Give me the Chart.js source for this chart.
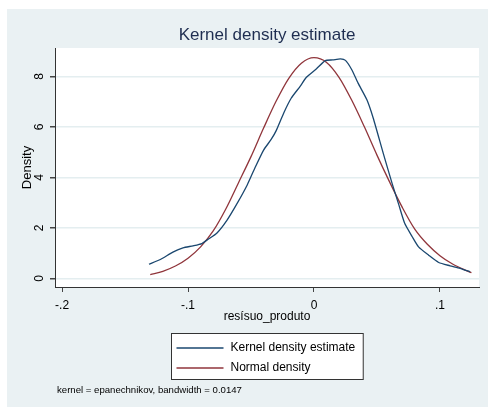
<!DOCTYPE html>
<html>
<head>
<meta charset="utf-8">
<script src="https://cdn.jsdelivr.net/npm/chart.js@4.4.1/dist/chart.umd.min.js"></script>
<style>
  body { margin: 0; background: #fff; }
  #wrap { position: absolute; left: 7px; top: 9px; width: 481px; height: 398px; }
</style>
</head>
<body>
<div id="wrap"><canvas id="kdens"></canvas></div>
<script>
// kernel density estimate of resísuo_produto
const kernelX = [-0.131, -0.122, -0.112, -0.104, -0.096, -0.089, -0.084, -0.077, -0.069, -0.061,
  -0.053, -0.047, -0.040, -0.034, -0.030, -0.024, -0.018, -0.011, -0.006, 0.002,
  0.009, 0.015, 0.021, 0.025, 0.030, 0.035, 0.042, 0.047, 0.055, 0.062,
  0.067, 0.072, 0.078, 0.083, 0.091, 0.099, 0.108, 0.116, 0.124];
const kernelY = [0.56, 0.75, 1.04, 1.21, 1.29, 1.38, 1.55, 1.80, 2.31, 2.97,
  3.70, 4.36, 5.08, 5.50, 5.85, 6.55, 7.14, 7.60, 7.96, 8.30,
  8.62, 8.65, 8.69, 8.63, 8.26, 7.73, 7.07, 6.35, 4.95, 3.76,
  2.97, 2.18, 1.65, 1.25, 0.92, 0.63, 0.50, 0.40, 0.26];

// normal density overlay
const normalX = [-0.13, -0.12, -0.11, -0.10, -0.09, -0.08, -0.07, -0.06, -0.05, -0.04,
  -0.03, -0.02, -0.01, 0.00, 0.01, 0.02, 0.03, 0.04, 0.05, 0.06,
  0.07, 0.08, 0.09, 0.10, 0.11, 0.12, 0.125];
const normalY = [0.15, 0.28, 0.49, 0.80, 1.25, 1.88, 2.75, 3.78, 4.82, 5.95,
  7.02, 7.92, 8.52, 8.74, 8.55, 7.95, 7.05, 6.00, 4.88, 3.82,
  2.82, 1.95, 1.35, 0.90, 0.57, 0.33, 0.23];

const xTicks = [-0.2, -0.1, 0, 0.1];
const xTickLabels = ['-.2', '-.1', '0', '.1'];
const yTicks = [0, 2, 4, 6, 8];

const FONT = "'Liberation Sans', Arial, sans-serif";
const BG = '#eaf1f3';

const pts = (xs, ys) => xs.map((x, i) => ({x: x, y: ys[i]}));

const background = {
  id: 'background',
  beforeDraw(chart) {
    const {ctx, chartArea: a} = chart;
    ctx.save();
    ctx.fillStyle = BG;
    ctx.fillRect(0, 0, chart.width, chart.height);
    ctx.fillStyle = '#fff';
    ctx.fillRect(a.left, a.top, a.right - a.left, a.bottom - a.top);
    ctx.restore();
  }
};

// stata style legend box + kernel note
const legendBox = {
  id: 'legendBox',
  afterDraw(chart) {
    const {ctx, chartArea: a} = chart;
    const sets = chart.data.datasets;
    ctx.save();
    ctx.font = '12px ' + FONT;
    let tw = 0;
    sets.forEach(d => { tw = Math.max(tw, ctx.measureText(d.label).width); });
    const lineW = 47, w = 5 + lineW + 7 + tw + 8, h = 46;
    const left = Math.round((a.left + a.right) / 2 - w / 2) + 0.5;
    const top = 324.5;
    ctx.fillStyle = '#fff';
    ctx.fillRect(left, top, w, h);
    ctx.strokeStyle = '#333';
    ctx.lineWidth = 1;
    ctx.strokeRect(left, top, w, h);
    sets.forEach((d, i) => {
      const y = top + 14.5 + i * 20;
      ctx.strokeStyle = d.borderColor;
      ctx.lineWidth = 1.3;
      ctx.beginPath();
      ctx.moveTo(left + 5, y);
      ctx.lineTo(left + 5 + lineW, y);
      ctx.stroke();
      ctx.fillStyle = '#000';
      ctx.textBaseline = 'middle';
      ctx.textAlign = 'left';
      ctx.fillText(d.label, left + 5 + lineW + 7, y);
    });
    ctx.font = '9.6px ' + FONT;
    ctx.fillStyle = '#000';
    ctx.fillText('kernel = epanechnikov, bandwidth = 0.0147', a.left + 2, 381);
    ctx.restore();
  }
};

new Chart(document.getElementById('kdens'), {
  type: 'line',
  data: {
    datasets: [{
      label: 'Kernel density estimate',
      data: pts(kernelX, kernelY),
      borderColor: '#1a476f',
      borderWidth: 1.3,
      pointRadius: 0,
      tension: 0.2
    }, {
      label: 'Normal density',
      data: pts(normalX, normalY),
      borderColor: '#90353b',
      borderWidth: 1.3,
      pointRadius: 0,
      cubicInterpolationMode: 'monotone'
    }]
  },
  options: {
    responsive: true,
    maintainAspectRatio: false,
    animation: false,
    layout: { padding: { left: 0, right: 9, top: 0, bottom: 70 } },
    plugins: {
      legend: { display: false },
      tooltip: { enabled: false },
      title: {
        display: true,
        fullSize: false,
        text: 'Kernel density estimate',
        color: '#1e2d50',
        font: { family: FONT, size: 17, weight: 'normal' },
        padding: { top: 16, bottom: 2.6 }
      }
    },
    scales: {
      x: {
        type: 'linear',
        min: -0.2056,
        max: 0.131,
        afterBuildTicks: s => { s.ticks = xTicks.map(v => ({value: v})); },
        afterFit: s => { s.height = 50; },
        ticks: {
          color: '#000',
          padding: 6,
          maxRotation: 0,
          font: { family: FONT, size: 12 },
          callback: (v) => xTickLabels[xTicks.indexOf(v)]
        },
        grid: { drawOnChartArea: false, tickLength: 5, tickColor: '#444' },
        border: { display: true, color: '#333', width: 1 },
        title: {
          display: true,
          text: 'resísuo_produto',
          color: '#000',
          font: { family: FONT, size: 12 },
          padding: { top: 0, bottom: 12.8 }
        }
      },
      y: {
        min: -0.34,
        max: 9.12,
        afterBuildTicks: s => { s.ticks = yTicks.map(v => ({value: v})); },
        afterFit: s => { s.width = 48; },
        ticks: {
          color: '#000',
          padding: 6.7,
          minRotation: 90,
          maxRotation: 90,
          crossAlign: 'center',
          font: { family: FONT, size: 12 }
        },
        grid: { color: '#e4eef0', lineWidth: 1.5, tickLength: 5, tickColor: '#444' },
        border: { display: true, color: '#333', width: 1 },
        title: {
          display: true,
          text: 'Density',
          color: '#000',
          font: { family: FONT, size: 13 },
          padding: { top: 12.2, bottom: 0 }
        }
      }
    }
  },
  plugins: [background, legendBox]
});
</script>
</body>
</html>
